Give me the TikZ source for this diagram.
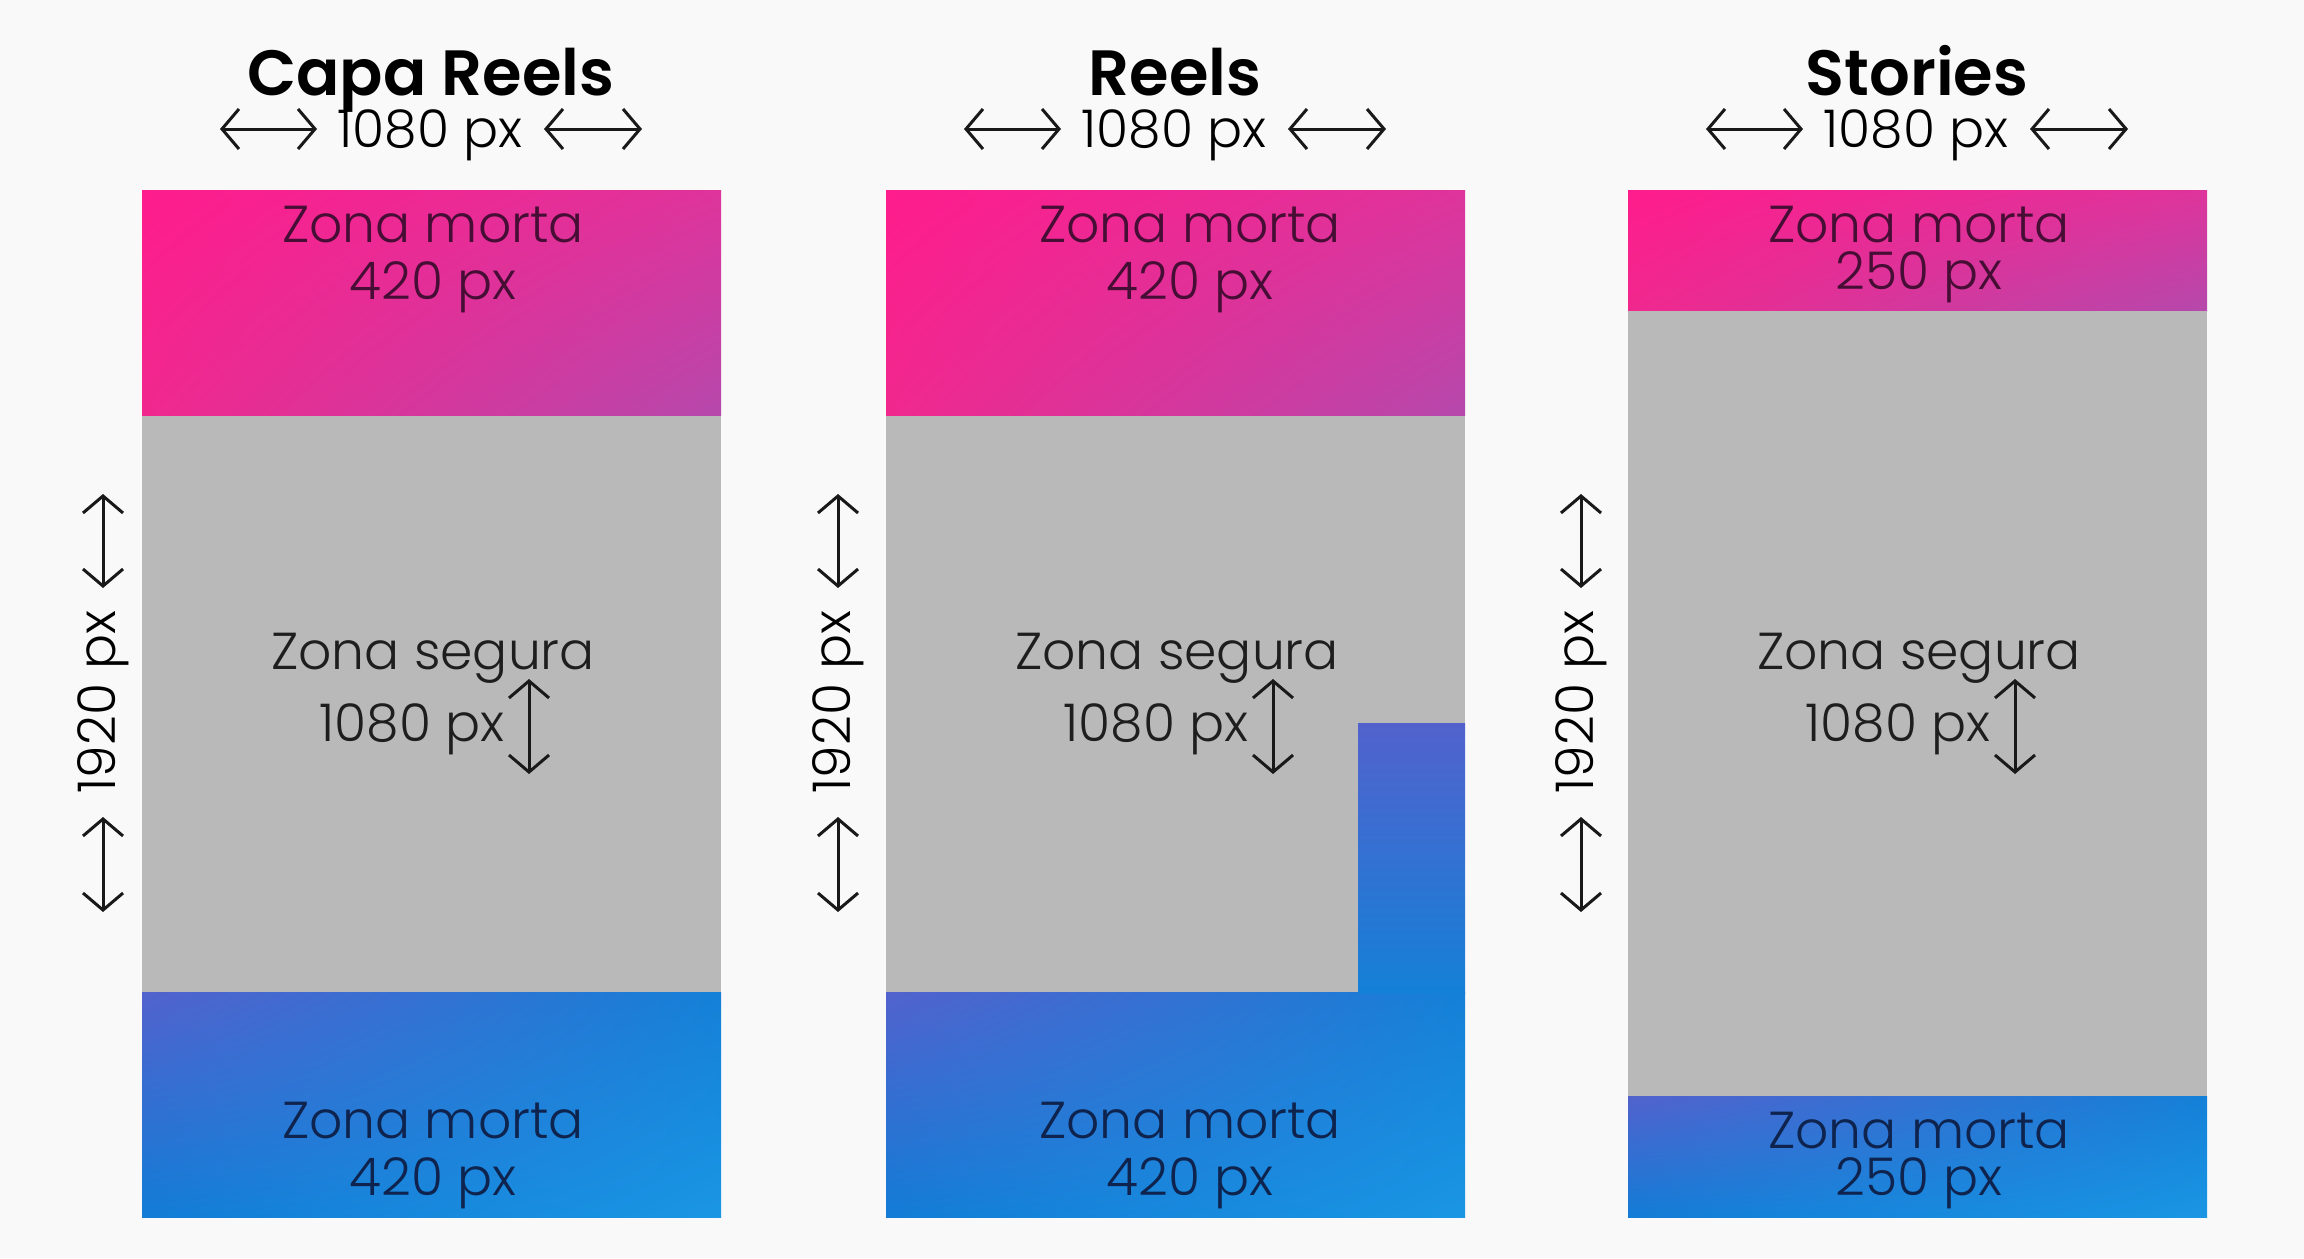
\documentclass[tikz,border=0pt]{standalone}
\usepackage{fontspec}
\setmainfont{Poppins}[UprightFont=* Light, BoldFont=* SemiBold]
\usetikzlibrary{arrows.meta,shadings}
\definecolor{bgc}{RGB}{249,249,249}
\definecolor{grayz}{RGB}{185,185,185}
\definecolor{pUL}{RGB}{255,28,140}
\definecolor{pUR}{RGB}{222,52,155}
\definecolor{pLL}{RGB}{240,40,142}
\definecolor{pLR}{RGB}{182,72,172}
\definecolor{bUL}{RGB}{82,98,205}
\definecolor{bUR}{RGB}{20,128,215}
\definecolor{bLL}{RGB}{18,124,214}
\definecolor{bLR}{RGB}{26,150,228}
\definecolor{ptext}{RGB}{70,14,52}
\definecolor{btext}{RGB}{14,36,78}
\definecolor{stext}{RGB}{30,30,30}
\tikzset{
  lbl/.style={font=\fontsize{52}{57}\selectfont, inner sep=0pt, align=center},
  lbltight/.style={font=\fontsize{52}{47}\selectfont, inner sep=0pt, align=center},
  ttl/.style={font=\fontsize{64}{66}\selectfont\bfseries, inner sep=0pt, text=black, anchor=base},
  dimarrow/.style={{Straight Barb[length=17pt,width=40pt,line width=3pt]}-{Straight Barb[length=17pt,width=40pt,line width=3pt]}, line width=3pt, draw=black!90},
  pinkshade/.style={upper left=pUL, upper right=pUR, lower left=pLL, lower right=pLR},
  blueshade/.style={upper left=bUL, upper right=bUR, lower left=bLL, lower right=bLR},
}
\begin{document}
\begin{tikzpicture}[x=1pt,y=-1pt]
\fill[bgc] (0,0) rectangle (2304,1258);
\useasboundingbox (0,0) rectangle (2304,1258);

% ---------- panel 1: Capa Reels ----------
\fill[grayz] (142,190) rectangle (721,1217);
\shade[pinkshade] (142,190) rectangle (721,415);
\shade[blueshade] (142,992) rectangle (721,1217);
\node[ttl] (t1) at (431,95) {Capa Reels};
\node[lbl, text=ptext] (m1a) at (433,260) {Zona morta\\420 px};
\node[lbl, text=btext] (m1b) at (433,1156) {Zona morta\\420 px};

% ---------- panel 2: Reels ----------
\fill[grayz] (886,190) rectangle (1465,1217);
\shade[pinkshade] (886,190) rectangle (1465,415);
\shade[blueshade] (886,992) rectangle (1465,1217);
\shade[top color=bUL, bottom color=bUR] (1358,723) rectangle (1465,993);
\node[ttl] (t2) at (1175,95) {Reels};
\node[lbl, text=ptext] (m2a) at (1190,260) {Zona morta\\420 px};
\node[lbl, text=btext] (m2b) at (1190,1156) {Zona morta\\420 px};

% ---------- panel 3: Stories ----------
\fill[grayz] (1628,190) rectangle (2207,1217);
\shade[pinkshade] (1628,190) rectangle (2207,310);
\shade[blueshade] (1628,1096) rectangle (2207,1217);
\node[ttl] (t3) at (1917,95) {Stories};
\node[lbltight, text=ptext] (m3a) at (1919,255) {Zona morta\\250 px};
\node[lbltight, text=btext] (m3b) at (1919,1161) {Zona morta\\250 px};

% ---------- repeated dimension marks ----------
\foreach \i/\dx/\vx in {1/0/103, 2/744/838, 3/1486/1581} {
  % width line
  \node[lbl, text=black, anchor=base] (w\i) at (430+\dx,147) {1080 px};
  \coordinate (wa\i) at (220+\dx,129);
  \coordinate (wb\i) at (317+\dx,129);
  \coordinate (wc\i) at (544+\dx,129);
  \coordinate (wd\i) at (642+\dx,129);
  \draw[dimarrow] (wa\i) -- (wb\i);
  \draw[dimarrow] (wc\i) -- (wd\i);
  % height line
  \node[lbl, text=black, rotate=90] (h\i) at (\vx,702) {1920 px};
  \coordinate (ha\i) at (\vx,494);
  \coordinate (hb\i) at (\vx,588);
  \coordinate (hc\i) at (\vx,817);
  \coordinate (hd\i) at (\vx,912);
  \draw[dimarrow] (ha\i) -- (hb\i);
  \draw[dimarrow] (hc\i) -- (hd\i);
  % safe zone
  \node[lbl, text=stext] (s\i) at (433+\dx,658) {Zona segura};
  \node[lbl, text=stext] (sv\i) at (412+\dx,729) {1080 px};
  \coordinate (sa\i) at (529+\dx,679);
  \coordinate (sb\i) at (529+\dx,774);
  \draw[dimarrow] (sa\i) -- (sb\i);
}
\end{tikzpicture}
\end{document}
